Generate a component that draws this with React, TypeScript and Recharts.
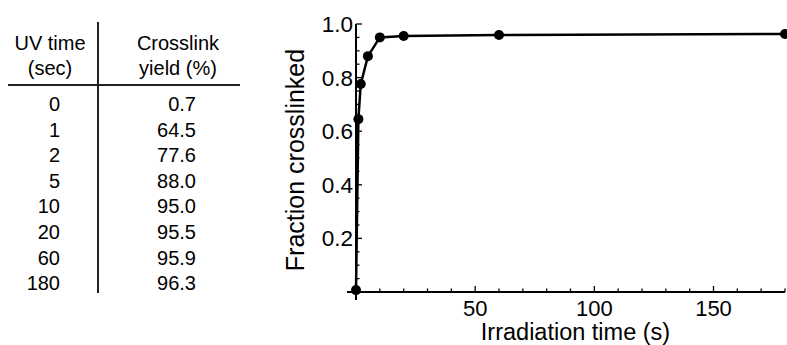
import React from 'react';
import { LineChart, Line, XAxis, YAxis } from 'recharts';

const uvTimes = [0, 1, 2, 5, 10, 20, 60, 180];
const yieldsPct = [0.7, 64.5, 77.6, 88.0, 95.0, 95.5, 95.9, 96.3];
const xTicks = [0, 10, 20, 30, 40, 50, 60, 70, 80, 90, 100, 110, 120, 130, 140, 150, 160, 170, 180];
const yTicks = [0, 0.05, 0.1, 0.15, 0.2, 0.25, 0.3, 0.35, 0.4, 0.45, 0.5, 0.55, 0.6, 0.65, 0.7, 0.75, 0.8, 0.85, 0.9, 0.95, 1.0];
const xLabel = 'Irradiation time (s)';
const yLabel = 'Fraction crosslinked';
const headerCol1 = ['UV time', '(sec)'];
const headerCol2 = ['Crosslink', 'yield (%)'];

const data = uvTimes.map((t, i) => ({ t, frac: yieldsPct[i] / 100 }));

const FONT = '"Liberation Sans", Arial, Helvetica, sans-serif';

const XTick = (props: any) => {
  const { x, y, payload } = props;
  const v = payload.value;
  const major = v % 50 === 0;
  return (
    <g>
      {v === 0 ? (
        <line x1={x - 9} y1={y} x2={x} y2={y} stroke="#000" strokeWidth={2} />
      ) : (
        <line x1={x} y1={y} x2={x} y2={y - (major ? 6 : 3.5)} stroke="#000" strokeWidth={1.3} />
      )}
      {major && v !== 0 ? (
        <text x={x} y={y + 23.5} textAnchor="middle" fontSize={22} fontFamily={FONT} fill="#000">
          {v}
        </text>
      ) : null}
    </g>
  );
};

const YTick = (props: any) => {
  const { x, y, payload } = props;
  const v = payload.value;
  const major = Math.round(v * 100) % 20 === 0;
  return (
    <g>
      {v === 0 ? (
        <line x1={x} y1={y} x2={x} y2={y + 8} stroke="#000" strokeWidth={2} />
      ) : (
        <line x1={x} y1={y} x2={x + (major ? 6 : 3.5)} y2={y} stroke="#000" strokeWidth={1.3} />
      )}
      {major && v !== 0 ? (
        <text x={x - 3} y={y + 8} textAnchor="end" fontSize={22.5} fontFamily={FONT} fill="#000">
          {v.toFixed(1)}
        </text>
      ) : null}
    </g>
  );
};

const Table = () => {
  const rowBase = 111;
  const rowStep = 25.6;
  return (
    <svg width={260} height={345} style={{ position: 'absolute', left: 0, top: 0, pointerEvents: 'none' }}>
      <line x1={98} y1={22} x2={98} y2={293} stroke="#222" strokeWidth={2} />
      <line x1={8} y1={85} x2={240} y2={85} stroke="#222" strokeWidth={2} />
      {headerCol1.map((s, i) => (
        <text key={'h1' + i} x={50} y={50 + i * 25} textAnchor="middle" fontSize={20} fontFamily={FONT} fill="#000">
          {s}
        </text>
      ))}
      {headerCol2.map((s, i) => (
        <text key={'h2' + i} x={178} y={50 + i * 25} textAnchor="middle" fontSize={20} fontFamily={FONT} fill="#000">
          {s}
        </text>
      ))}
      {uvTimes.map((t, i) => (
        <text key={'t' + i} x={60} y={rowBase + i * rowStep} textAnchor="end" fontSize={20} fontFamily={FONT} fill="#000">
          {t}
        </text>
      ))}
      {yieldsPct.map((v, i) => (
        <text key={'v' + i} x={196} y={rowBase + i * rowStep} textAnchor="end" fontSize={20} fontFamily={FONT} fill="#000">
          {v.toFixed(1)}
        </text>
      ))}
    </svg>
  );
};

export default function App() {
  return (
    <div style={{ position: 'absolute', left: 0, top: 0, width: 787, height: 345, overflow: 'hidden', background: '#fff' }}>
      <div style={{ position: 'absolute', left: 0, top: 0 }}>
        <LineChart width={787} height={345} data={data} margin={{ top: 24, right: 2, bottom: 0, left: 0 }}>
          <XAxis
            dataKey="t"
            type="number"
            domain={[0, 180]}
            ticks={xTicks}
            interval={0}
            height={53}
            tickSize={0}
            tickMargin={0}
            tickLine={false}
            axisLine={{ stroke: '#000', strokeWidth: 2 }}
            tick={(p: any) => <XTick {...p} />}
            label={(p: any) => {
              const vb = p.viewBox;
              return (
                <text x={vb.x + vb.width / 2 + 5} y={vb.y + 48} textAnchor="middle" fontSize={23.5} fontFamily={FONT} fill="#000">
                  {xLabel}
                </text>
              );
            }}
          />
          <YAxis
            type="number"
            domain={[0, 1]}
            ticks={yTicks}
            interval={0}
            width={356}
            tickSize={0}
            tickMargin={0}
            tickLine={false}
            axisLine={{ stroke: '#000', strokeWidth: 2 }}
            tick={(p: any) => <YTick {...p} />}
            label={(p: any) => {
              const vb = p.viewBox;
              const cx = 304;
              const cy = vb.y + vb.height / 2 + 2;
              return (
                <text x={cx} y={cy} transform={`rotate(-90, ${cx}, ${cy})`} textAnchor="middle" fontSize={25} fontFamily={FONT} fill="#000">
                  {yLabel}
                </text>
              );
            }}
          />
          <Line
            type="linear"
            dataKey="frac"
            stroke="#000"
            strokeWidth={2.5}
            dot={{ r: 5, fill: '#000', stroke: '#000', strokeWidth: 0 }}
            isAnimationActive={false}
          />
        </LineChart>
      </div>
      <Table />
    </div>
  );
}
